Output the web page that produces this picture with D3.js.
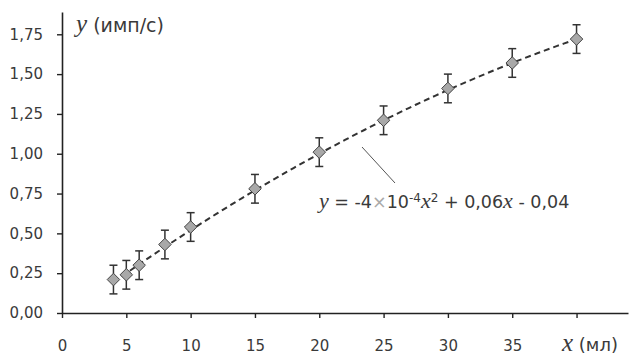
<!DOCTYPE html>
<html>
<head>
<meta charset="utf-8">
<script src="https://cdnjs.cloudflare.com/ajax/libs/d3/7.8.5/d3.min.js"></script>
<style>
  body { margin: 0; background: #fff; }
  #chart text { font-family: "DejaVu Sans", "Open Sans", sans-serif; fill: #3a3a3a; }
  #chart .var { font-family: "Liberation Serif", "DejaVu Serif", serif; font-style: italic; }
</style>
</head>
<body>
<div id="chart"></div>
<script>
var volumes = [4, 5, 6, 8, 10, 15, 20, 25, 30, 35, 40];
var rates = [0.21, 0.24, 0.30, 0.43, 0.54, 0.78, 1.01, 1.21, 1.41, 1.57, 1.72];
var errors = [0.09, 0.09, 0.09, 0.09, 0.09, 0.09, 0.09, 0.09, 0.09, 0.09, 0.09];
var xTicks = [0, 5, 10, 15, 20, 25, 30, 35];
var yTicks = [0, 0.25, 0.5, 0.75, 1.0, 1.25, 1.5, 1.75];
// trend: a*x^2 + b*x + c (as printed on the chart)
var trendCoef = [-0.0004, 0.06, -0.04];

var width = 634, height = 356;

var svg = d3.select("#chart").append("svg")
  .attr("width", width)
  .attr("height", height);

var x = d3.scaleLinear().domain([0, 44]).range([62, 628]);
var y = d3.scaleLinear().domain([0, 1.89]).range([313, 12]);

var fmt = function(d) { return d3.format(".2f")(d).replace(".", ","); };

var yAxis = d3.axisLeft(y)
  .tickValues(yTicks)
  .tickFormat(fmt)
  .tickSize(5)
  .tickSizeOuter(0)
  .tickPadding(14);

var xAxis = d3.axisBottom(x)
  .tickValues(xTicks.concat([40]))
  .tickFormat(function(d) { return d == 40 ? "" : d; })
  .tickSize(5)
  .tickSizeOuter(0)
  .tickPadding(22);

var gy = svg.append("g")
  .attr("transform", "translate(62,0)")
  .call(yAxis);
var gx = svg.append("g")
  .attr("transform", "translate(0,313)")
  .call(xAxis);

[gx, gy].forEach(function(g) {
  g.select(".domain").attr("stroke", "#222").attr("stroke-width", 1.6);
  g.selectAll(".tick line").attr("stroke", "#222").attr("stroke-width", 1.4);
  g.selectAll(".tick text").style("font-size", "15px").attr("fill", "#3a3a3a");
});

// trend line
var trendPts = d3.range(4, 40.01, 0.5).map(function(v) {
  return [v, trendCoef[0] * v * v + trendCoef[1] * v + trendCoef[2]];
});
svg.append("path")
  .datum(trendPts)
  .attr("fill", "none")
  .attr("stroke", "#333")
  .attr("stroke-width", 2)
  .attr("stroke-dasharray", "6,4")
  .attr("d", d3.line().x(d => x(d[0])).y(d => y(d[1])));

var data = volumes.map(function(v, i) {
  return { x: v, y: rates[i], e: errors[i] };
});

var pts = svg.selectAll(".pt").data(data).enter().append("g").attr("class", "pt");

pts.append("line")
  .attr("x1", d => x(d.x)).attr("x2", d => x(d.x))
  .attr("y1", d => y(d.y - d.e)).attr("y2", d => y(d.y + d.e))
  .attr("stroke", "#333").attr("stroke-width", 1.5);
pts.append("line")
  .attr("x1", d => x(d.x) - 4).attr("x2", d => x(d.x) + 4)
  .attr("y1", d => y(d.y + d.e)).attr("y2", d => y(d.y + d.e))
  .attr("stroke", "#333").attr("stroke-width", 1.5);
pts.append("line")
  .attr("x1", d => x(d.x) - 4).attr("x2", d => x(d.x) + 4)
  .attr("y1", d => y(d.y - d.e)).attr("y2", d => y(d.y - d.e))
  .attr("stroke", "#333").attr("stroke-width", 1.5);

pts.append("path")
  .attr("transform", d => `translate(${x(d.x)},${y(d.y)})`)
  .attr("d", d3.symbol().type(d3.symbolDiamond2).size(100))
  .attr("fill", "#a8a8a8")
  .attr("stroke", "#444")
  .attr("stroke-width", 1);

// axis titles
var yTitle = svg.append("text").attr("x", 76).attr("y", 32);
yTitle.append("tspan").attr("class", "var").style("font-size", "25px").text("y");
yTitle.append("tspan").style("font-size", "19px").text(" (имп/с)");

var xTitle = svg.append("text").attr("x", 562).attr("y", 351);
xTitle.append("tspan").attr("class", "var").style("font-size", "25px").text("x");
xTitle.append("tspan").style("font-size", "18px").text(" (мл)");

// equation label with leader
svg.append("line")
  .attr("x1", 362).attr("y1", 147)
  .attr("x2", 395).attr("y2", 183)
  .attr("stroke", "#555").attr("stroke-width", 1);

var eq = svg.append("text").attr("x", 319).attr("y", 208).style("font-size", "17.5px");
eq.append("tspan").attr("class", "var").style("font-size", "22px").text("y");
eq.append("tspan").text(" = -4");
eq.append("tspan").style("fill", "#aaa").text("×");
eq.append("tspan").text("10");
eq.append("tspan").attr("dy", -6).style("font-size", "12px").text("-4");
eq.append("tspan").attr("dy", 6).attr("class", "var").style("font-size", "22px").text("x");
eq.append("tspan").attr("dy", -6).style("font-size", "12px").text("2");
eq.append("tspan").attr("dy", 6).text(" + 0,06");
eq.append("tspan").attr("class", "var").style("font-size", "22px").text("x");
eq.append("tspan").text(" - 0,04");
</script>
</body>
</html>
